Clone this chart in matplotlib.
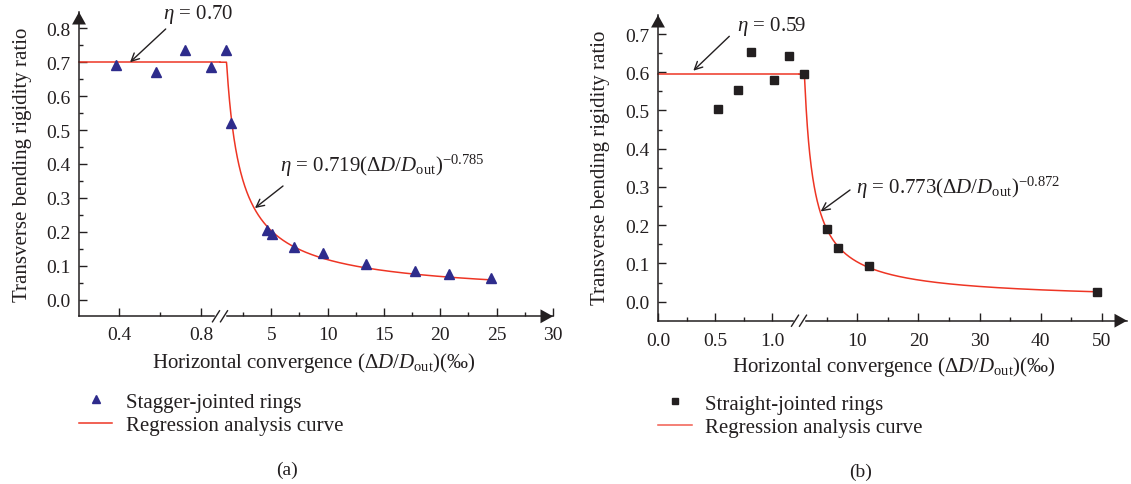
import numpy as np
import matplotlib
matplotlib.use("Agg")
import matplotlib.pyplot as plt
from matplotlib.lines import Line2D
from matplotlib.ticker import MultipleLocator, FixedLocator, FormatStrFormatter

plt.rcParams['font.family'] = ['Liberation Serif', 'DejaVu Serif']
plt.rcParams['mathtext.fontset'] = 'custom'
plt.rcParams['mathtext.rm'] = 'Liberation Serif'
plt.rcParams['mathtext.it'] = 'Liberation Serif:italic'
plt.rcParams['mathtext.bf'] = 'Liberation Serif:bold'

# ---------------- data (a) stagger-jointed ----------------
stag_x_low = [0.385, 0.58, 0.722, 0.849]
stag_y_low = [0.693, 0.670, 0.736, 0.686]
stag_x_high = [0.98, 1.40, 4.59, 5.03, 7.04, 9.6, 13.4, 17.77, 20.78, 24.54]
stag_y_high = [0.737, 0.520, 0.206, 0.193, 0.155, 0.138, 0.105, 0.0855, 0.076, 0.063]
stag_plateau = 0.70
stag_coef = 0.719
stag_exp = -0.785

# ---------------- data (b) straight-jointed ----------------
str_x_low = [0.528, 0.703, 0.816, 1.018, 1.146]
str_y_low = [0.503, 0.553, 0.652, 0.579, 0.642]
str_x_high = [1.33, 5.09, 6.89, 11.96, 49.2]
str_y_high = [0.595, 0.189, 0.140, 0.093, 0.026]
str_plateau = 0.595
str_coef = 0.773
str_exp = -0.872

ticks_a_low = [0.4, 0.8]
ticks_a_high = [5, 10, 15, 20, 25, 30]
ticks_b_low = [0.0, 0.5, 1.0]
ticks_b_high = [10, 20, 30, 40, 50]

RED = '#EE3524'
BLUE = '#2E2C8C'
BLACK = '#231F20'
FS = 15      # labels / legend
TFS = 14     # tick labels
AFS = 15     # annotations

W, H = 1131, 485
fig = plt.figure(figsize=(W / 100, H / 100), dpi=100)


def add_ax(x0, x1, ytop, ybot):
    return fig.add_axes([x0 / W, 1 - ybot / H, (x1 - x0) / W, (ybot - ytop) / H])


def style(ax, left_spine, xpad):
    for s in ['top', 'right']:
        ax.spines[s].set_visible(False)
    if not left_spine:
        ax.spines['left'].set_visible(False)
        ax.tick_params(axis='y', left=False, labelleft=False, which='both')
    for s in ['left', 'bottom']:
        ax.spines[s].set_linewidth(1.1)
        ax.spines[s].set_color(BLACK)
    ax.tick_params(which='major', direction='in', length=6, width=1.0,
                   labelsize=TFS, colors=BLACK, labelcolor=BLACK)
    ax.tick_params(which='minor', direction='in', length=3, width=1.0, colors=BLACK)
    ax.tick_params(axis='x', which='major', pad=xpad)
    ax.tick_params(axis='y', which='major', pad=6)
    ax.patch.set_alpha(0)


def axis_arrow(ax, which):
    if which == 'y':
        xy, xyt = (0, 1), (0, 0.9)
    else:
        xy, xyt = (1, 0), (0.9, 0)
    ax.annotate('', xy=xy, xycoords='axes fraction', xytext=xyt, textcoords='axes fraction',
                arrowprops=dict(arrowstyle='-|>,head_length=0.45,head_width=0.25',
                                mutation_scale=20, color=BLACK, lw=0,
                                shrinkA=0, shrinkB=0), annotation_clip=False)


def break_marks(xc, yc):
    fig.add_artist(Line2D([(xc - 4) / W, (xc + 4) / W], [1 - yc / H, 1 - yc / H],
                          color='white', lw=2.5, transform=fig.transFigure))
    for dx in (-4, 4):
        fig.add_artist(Line2D([(xc + dx - 3.5) / W, (xc + dx + 3.5) / W],
                              [1 - (yc + 5.5) / H, 1 - (yc - 5.5) / H],
                              color=BLACK, lw=1.0, transform=fig.transFigure))


def arrow(ax, target, tail_px):
    ax.annotate('', xy=target, xycoords='data',
                xytext=(tail_px[0], H - tail_px[1]), textcoords='figure pixels',
                arrowprops=dict(arrowstyle='->', color=BLACK, lw=1.0,
                                shrinkA=0, shrinkB=0, mutation_scale=14))


# ================= panel (a) =================
ya = (-0.049, 0.848)
axA1 = add_ax(79, 220, 13, 317.3)
axA2 = add_ax(220, 553, 13, 317.3)
for ax in (axA1, axA2):
    ax.set_ylim(*ya)
axA1.set_xlim(0.205, 0.893)
axA2.set_xlim(0.452, 30)
style(axA1, True, 7)
style(axA2, False, 7)
axA1.yaxis.set_major_locator(MultipleLocator(0.1))
axA1.yaxis.set_minor_locator(MultipleLocator(0.05))
axA1.yaxis.set_major_formatter(FormatStrFormatter('%.1f'))
axA1.xaxis.set_major_locator(FixedLocator(ticks_a_low))
axA1.xaxis.set_minor_locator(FixedLocator([0.6]))
axA1.xaxis.set_major_formatter(FormatStrFormatter('%.1f'))
axA2.xaxis.set_major_locator(FixedLocator(ticks_a_high))
axA2.xaxis.set_minor_locator(MultipleLocator(2.5))
axA2.xaxis.set_major_formatter(FormatStrFormatter('%d'))

axA1.plot(axA1.get_xlim(), [stag_plateau, stag_plateau], color=RED, lw=1.1, clip_on=False)
xa = np.linspace(axA2.get_xlim()[0], stag_x_high[-1], 800)
axA2.plot(xa, np.minimum(stag_plateau, stag_coef * xa ** stag_exp), color=RED, lw=1.1, clip_on=False)
axA1.plot(stag_x_low, stag_y_low, '^', color=BLUE, ms=7, clip_on=False)
axA2.plot(stag_x_high, stag_y_high, '^', color=BLUE, ms=7, clip_on=False)

axis_arrow(axA1, 'y')
axis_arrow(axA2, 'x')
break_marks(220, 317.3)

fig.text(163 / W, 1 - 15 / H, r'$\eta$ = 0.70', fontsize=AFS, va='center', ha='left', color=BLACK)
arrow(axA1, (0.454, 0.70), (165.7, 30))
fig.text(280 / W, 1 - 166 / H, r'$\eta$ = 0.719($\Delta D/D_{\rm out})^{-0.785}$',
         fontsize=AFS, va='center', ha='left', color=BLACK)
arrow(axA2, (3.55, 0.270), (283, 187))

fig.text(23 / W, 1 - 165 / H, 'Transverse bending rigidity ratio', rotation=90,
         fontsize=FS, va='center', ha='center', color=BLACK)
fig.text(314 / W, 1 - 363 / H, r'Horizontal convergence ($\Delta D/D_{\rm out}$)(‰)',
         fontsize=FS, va='center', ha='center', color=BLACK)

fig.legend(handles=[Line2D([], [], ls='none', marker='^', color=BLUE, ms=6),
                    Line2D([], [], color=RED, lw=1.1)],
           labels=['Stagger-jointed rings', 'Regression analysis curve'],
           loc='upper left', bbox_to_anchor=(79 / W, 1 - 393 / H), frameon=False,
           fontsize=FS, handlelength=1.6, handletextpad=0.65, borderpad=0,
           borderaxespad=0, labelspacing=0.2, labelcolor=BLACK)
fig.text(287 / W, 1 - 470 / H, '(a)', fontsize=FS - 1, ha='center', va='center', color=BLACK)

# ================= panel (b) =================
yb = (-0.0497, 0.7497)
axB1 = add_ax(658, 799, 16, 321.7)
axB2 = add_ax(799, 1127, 16, 321.7)
for ax in (axB1, axB2):
    ax.set_ylim(*yb)
axB1.set_xlim(0, 1.234)
axB2.set_xlim(0.458, 54.1)
style(axB1, True, 8)
style(axB2, False, 8)
axB1.yaxis.set_major_locator(MultipleLocator(0.1))
axB1.yaxis.set_minor_locator(MultipleLocator(0.05))
axB1.yaxis.set_major_formatter(FormatStrFormatter('%.1f'))
axB1.xaxis.set_major_locator(FixedLocator(ticks_b_low))
axB1.xaxis.set_minor_locator(FixedLocator([0.25, 0.75]))
axB1.xaxis.set_major_formatter(FormatStrFormatter('%.1f'))
axB2.xaxis.set_major_locator(FixedLocator(ticks_b_high))
axB2.xaxis.set_minor_locator(FixedLocator([5, 15, 25, 35, 45]))
axB2.xaxis.set_major_formatter(FormatStrFormatter('%d'))

axB1.plot(axB1.get_xlim(), [str_plateau, str_plateau], color=RED, lw=1.1, clip_on=False)
xb = np.linspace(axB2.get_xlim()[0], str_x_high[-1], 1000)
axB2.plot(xb, np.minimum(str_plateau, str_coef * xb ** str_exp), color=RED, lw=1.1, clip_on=False)
axB1.plot(str_x_low, str_y_low, 's', color=BLACK, ms=5.5, clip_on=False)
axB2.plot(str_x_high, str_y_high, 's', color=BLACK, ms=5.5, clip_on=False)

axis_arrow(axB1, 'y')
axis_arrow(axB2, 'x')
break_marks(799, 321.7)

fig.text(737 / W, 1 - 26 / H, r'$\eta$ = 0.59', fontsize=AFS, va='center', ha='left', color=BLACK)
arrow(axB1, (0.309, 0.604), (729.3, 37.3))
fig.text(856 / W, 1 - 188 / H, r'$\eta$ = 0.773($\Delta D/D_{\rm out})^{-0.872}$',
         fontsize=AFS, va='center', ha='left', color=BLACK)
arrow(axB2, (4.0, 0.236), (850, 191))

fig.text(601 / W, 1 - 168 / H, 'Transverse bending rigidity ratio', rotation=90,
         fontsize=FS, va='center', ha='center', color=BLACK)
fig.text(894 / W, 1 - 367 / H, r'Horizontal convergence ($\Delta D/D_{\rm out}$)(‰)',
         fontsize=FS, va='center', ha='center', color=BLACK)

fig.legend(handles=[Line2D([], [], ls='none', marker='s', color=BLACK, ms=5),
                    Line2D([], [], color=RED, lw=1.1, alpha=0.8)],
           labels=['Straight-jointed rings', 'Regression analysis curve'],
           loc='upper left', bbox_to_anchor=(657.5 / W, 1 - 395 / H), frameon=False,
           fontsize=FS, handlelength=1.65, handletextpad=0.65, borderpad=0,
           borderaxespad=0, labelspacing=0.2, labelcolor=BLACK)
fig.text(861 / W, 1 - 472 / H, '(b)', fontsize=FS - 1, ha='center', va='center', color=BLACK)

fig.savefig('out.png', dpi=100)
